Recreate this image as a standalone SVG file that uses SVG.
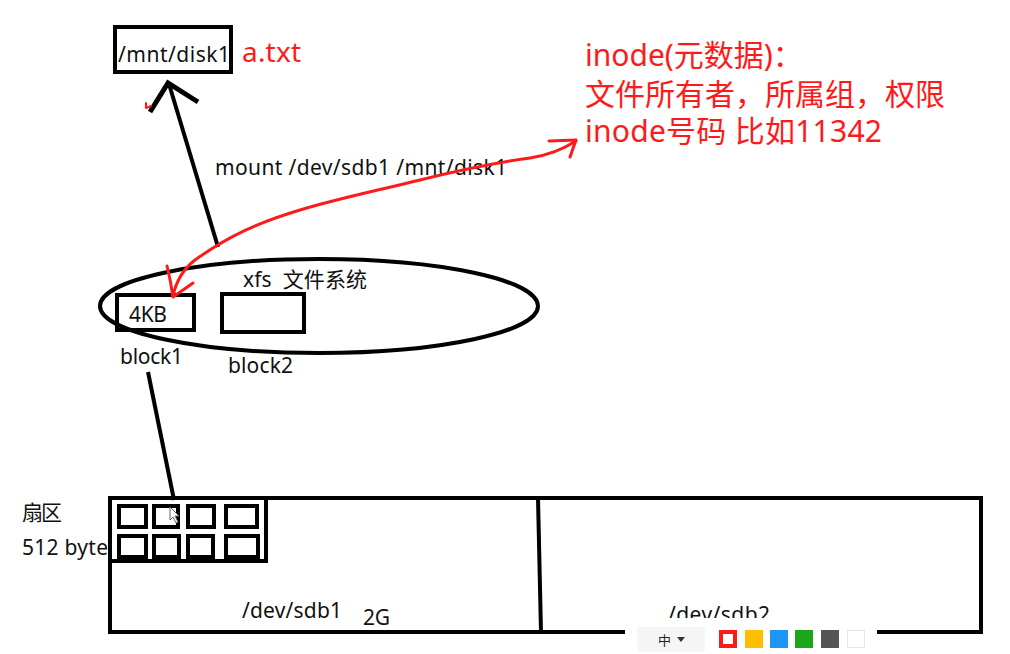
<svg xmlns="http://www.w3.org/2000/svg" width="1010" height="654" viewBox="0 0 1010 654">
<style>
.t{font-family:"Noto Sans","Noto Sans CJK SC",sans-serif;font-size:21px;fill:#111}
.r{font-family:"Noto Sans","Noto Sans CJK SC",sans-serif;font-size:30px;fill:#ff1a1a}
.b{fill:none;stroke:#000;stroke-width:4}
.red{fill:none;stroke:#ff1a1a;stroke-width:3;stroke-linecap:round;stroke-linejoin:round}
</style>
<rect width="1010" height="654" fill="#fff"/>

<g id="mnt">
<rect class="b" x="115" y="27" width="116" height="45"/>
<text class="t" x="118" y="62" textLength="112">/mnt/disk1</text>
<text class="r" x="242" y="62" style="font-size:28px" textLength="59">a.txt</text>
</g>

<g id="inode">
<text class="r" x="585" y="66">inode(元数据)：</text>
<text class="r" x="585" y="105" textLength="360">文件所有者，所属组，权限</text>
<text class="r" x="585" y="142" textLength="297">inode号码 比如11342</text>
</g>

<g id="fs">
<ellipse class="b" cx="319" cy="306" rx="219" ry="47"/>
<text class="t" x="243" y="287" textLength="124" xml:space="preserve">xfs  文件系统</text>
</g>

<g id="block1">
<rect class="b" x="117" y="295" width="77" height="35"/>
<text class="t" x="129" y="322" textLength="38">4KB</text>
<text class="t" x="120" y="364" textLength="63">block1</text>
</g>

<g id="block2">
<rect class="b" x="222" y="294" width="82" height="38"/>
<text class="t" x="228" y="373" textLength="65">block2</text>
</g>

<g id="disk">
<rect class="b" x="110" y="498" width="871" height="134"/>
<path class="b" d="M538 498 L541 632"/>
<text class="t" x="242" y="618" textLength="100">/dev/sdb1</text>
<text class="t" x="363" y="625" textLength="27">2G</text>
<text class="t" x="668" y="622" textLength="102">/dev/sdb2</text>
</g>

<g id="sectors">
<rect class="b" x="110" y="498" width="156" height="63"/>
<rect class="b" x="119" y="506" width="27" height="21"/>
<rect class="b" x="154" y="506" width="24" height="21"/>
<rect class="b" x="188" y="506" width="26" height="21"/>
<rect class="b" x="226" y="506" width="31" height="21"/>
<rect class="b" x="119" y="536" width="27" height="21"/>
<rect class="b" x="154" y="536" width="25" height="21"/>
<rect class="b" x="188" y="536" width="25" height="21"/>
<rect class="b" x="226" y="536" width="32" height="21"/>
<text class="t" x="22" y="520" textLength="40">扇区</text>
<text class="t" x="22" y="555" textLength="86">512 byte</text>
<path d="M170 507 L170 520 L173 517 L176 523 L178 522 L175 516 L179 516 Z" fill="#fff" stroke="#666" stroke-width="1"/>
</g>

<g id="connectors">
<path d="M218 247 L169 84" fill="none" stroke="#000" stroke-width="4"/>
<path d="M150 112 L168 83 L198 102" fill="none" stroke="#000" stroke-width="5" stroke-linejoin="miter"/>
<text class="t" x="215" y="175" textLength="292">mount /dev/sdb1 /mnt/disk1</text>
<path d="M148 372 L174 500" fill="none" stroke="#000" stroke-width="4"/>
<path class="red" d="M146 103 L146 108 L151 106" style="stroke-width:2"/>
<path class="red" d="M173 296 C176 282 182 270 195 260 C230 235 260 222 300 210 C340 198 380 190 420 180 C460 170 500 162 530 158 C550 155 565 148 576 141"/>
<path class="red" d="M549 141 L576 140 L570 157"/>
<path class="red" d="M167 266 C170 278 172 290 173 297 L193 283"/>
</g>

<g id="toolbar">
<rect x="625" y="618" width="252" height="36" fill="#fff"/>
<rect x="637" y="627" width="68" height="25" rx="3" fill="#f5f5f5"/>
<text x="658" y="645" style="font-family:'Noto Sans CJK SC',sans-serif;font-size:13px;fill:#222">中</text>
<path d="M677 637 L685 637 L681 642 Z" fill="#333"/>
<rect x="721" y="632" width="14" height="14" fill="#fff" stroke="#ff1a1a" stroke-width="4"/>
<rect x="745" y="630" width="18" height="18" fill="#ffbf00"/>
<rect x="770" y="630" width="18" height="18" fill="#1e96f5"/>
<rect x="795" y="630" width="18" height="18" fill="#1aa81a"/>
<rect x="821" y="630" width="18" height="18" fill="#555"/>
<rect x="847.5" y="630.5" width="17" height="17" fill="#fff" stroke="#e6e6e6"/>
</g>
</svg>
